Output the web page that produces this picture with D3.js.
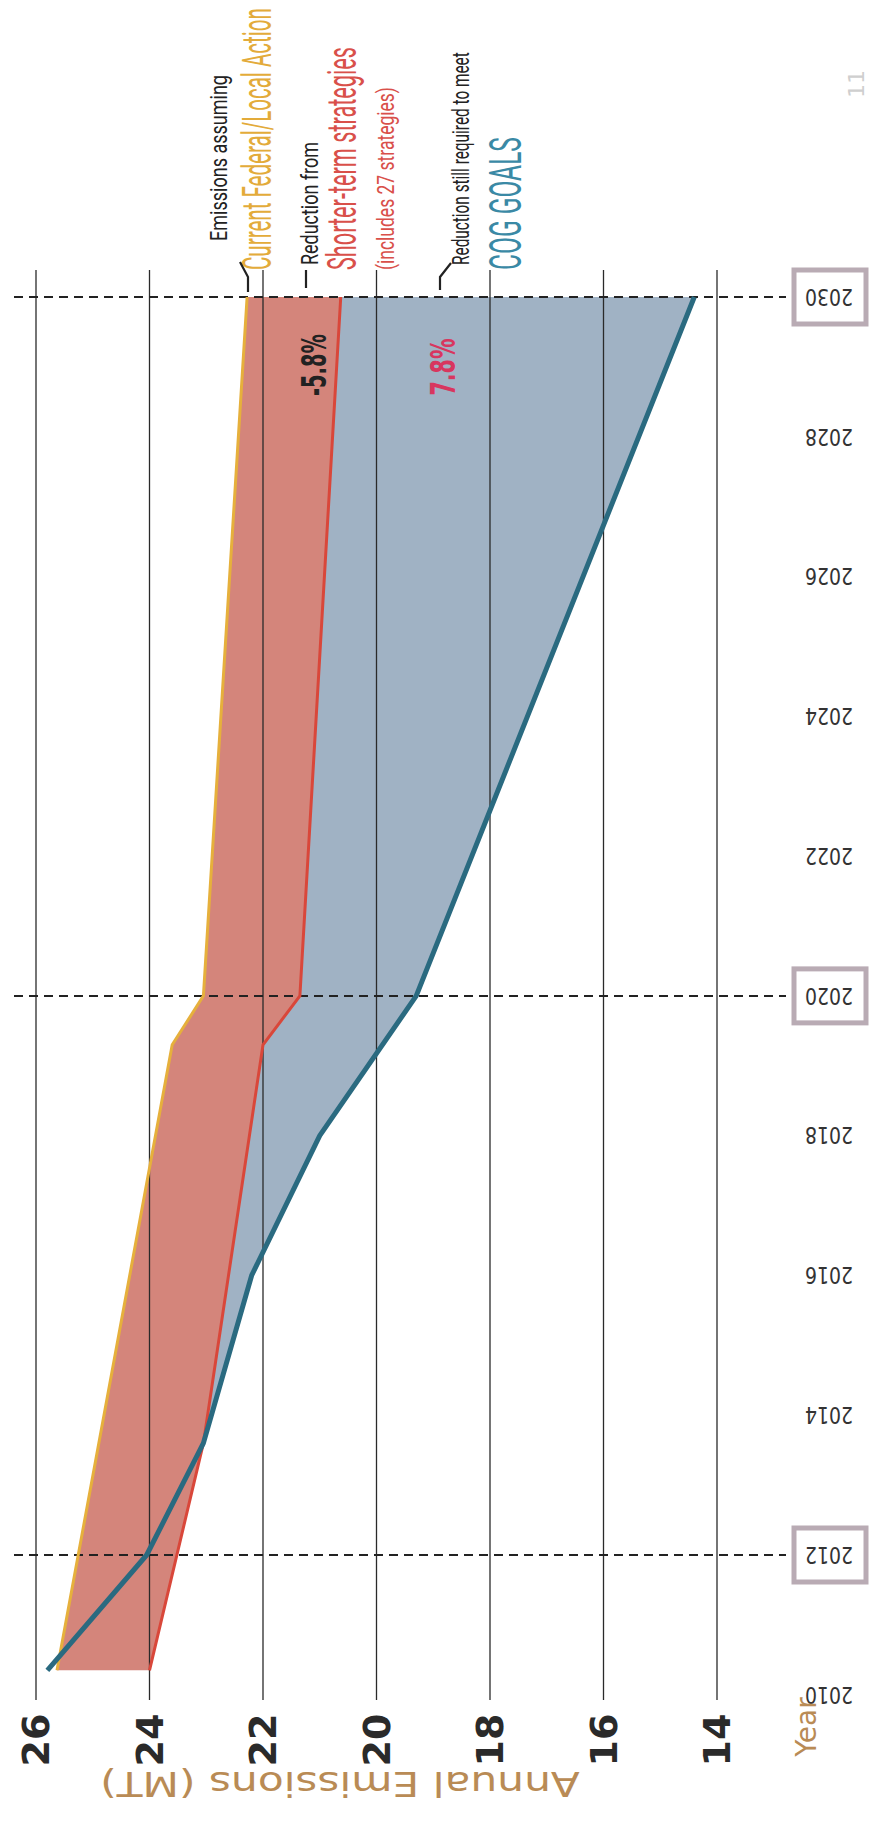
<!DOCTYPE html>
<html>
<head>
<meta charset="utf-8">
<script src="https://cdn.jsdelivr.net/npm/d3@7"></script>
<style>
  html, body { margin: 0; padding: 0; background: #ffffff; }
  svg { display: block; }
</style>
</head>
<body>
<svg id="chart" width="870" height="1824"></svg>
<script>
// ---------------- DATA ----------------
const valueTicks = [26, 24, 22, 20, 18, 16, 14];
const yearTicks = [2010, 2012, 2014, 2016, 2018, 2020, 2022, 2024, 2026, 2028, 2030];
const markedYears = [2012, 2020, 2030];

// Emissions assuming Current Federal/Local Action (MT)
const currentYears  = [2010.35, 2019.3, 2020, 2030];
const currentValues = [25.63, 23.6, 23.05, 22.28];

// After Shorter-term strategies
const shorterYears  = [2010.35, 2013.6, 2019.3, 2020, 2030];
const shorterValues = [24.0, 23.05, 22.0, 21.35, 20.63];

// COG goals path
const cogYears  = [2010.35, 2012, 2013.6, 2016, 2018, 2020, 2030];
const cogValues = [25.8, 24.05, 23.05, 22.2, 21.0, 19.3, 14.4];

const pctLabels = ["-5.8%", "7.8%"];

// ---------------- CHART ----------------
const svg = d3.select("#chart");
const FONT = "'DejaVu Sans', 'Liberation Sans', sans-serif";
const NARROW = "'Liberation Sans Narrow', 'Roboto', 'Liberation Sans', sans-serif";

const yS = d3.scaleLinear().domain([2012, 2030]).range([1555, 297]);
const xS = d3.scaleLinear().domain([26, 14]).range([36, 717]);

const zip = (ys, vs) => ys.map((y, i) => ({ yr: y, v: vs[i] }));
const current = zip(currentYears, currentValues);
const shorter = zip(shorterYears, shorterValues);
const cog = zip(cogYears, cogValues);

const line = d3.line().x(d => xS(d.v)).y(d => yS(d.yr));

// fit a text to a target length by horizontal scaling in its own frame
function fit(sel, x, y, rot, len) {
  sel.each(function (d) {
    const X = typeof x === "function" ? x(d) : x;
    const Y = typeof y === "function" ? y(d) : y;
    const L = typeof len === "function" ? len(d) : len;
    const w = this.getComputedTextLength();
    const k = w > 0 ? L / w : 1;
    d3.select(this).attr("transform", `translate(${X},${Y}) rotate(${rot}) scale(${k},1)`);
  });
}

// piecewise-linear value of a series at a year
function valueAt(series, yr) {
  for (let i = 0; i < series.length - 1; i++) {
    const a = series[i], b = series[i + 1];
    if (yr >= a.yr && yr <= b.yr) return a.v + (b.v - a.v) * (yr - a.yr) / (b.yr - a.yr);
  }
  return series[series.length - 1].v;
}
// crossing of shorter-term and COG lines
function crossing() {
  const ys = Array.from(new Set(shorter.map(d => d.yr).concat(cog.map(d => d.yr)))).sort((a, b) => a - b);
  for (let i = 0; i < ys.length - 1; i++) {
    const d0 = valueAt(shorter, ys[i]) - valueAt(cog, ys[i]);
    const d1 = valueAt(shorter, ys[i + 1]) - valueAt(cog, ys[i + 1]);
    if (d0 <= 0 && d1 > 0) {
      const t = ys[i] + (ys[i + 1] - ys[i]) * (-d0) / (d1 - d0);
      return { yr: t, v: valueAt(shorter, t) };
    }
  }
  return shorter[0];
}

// red band between current and shorter-term
const redPoly = current.concat(shorter.slice().reverse());
svg.append("path").attr("d", line(redPoly) + "Z")
  .attr("fill", "#d4857b").attr("stroke", "none");

// blue band between shorter-term and COG goals (after the crossing)
const cx = crossing();
const blueTop = [cx].concat(shorter.filter(d => d.yr > cx.yr));
const blueBot = cog.filter(d => d.yr > cx.yr).reverse();
svg.append("path").attr("d", line(blueTop.concat(blueBot)) + "Z")
  .attr("fill", "#a0b2c4").attr("stroke", "none");

// gridlines
svg.append("g").selectAll("line").data(valueTicks).join("line")
  .attr("x1", d => xS(d)).attr("x2", d => xS(d))
  .attr("y1", 270).attr("y2", 1700)
  .attr("stroke", "#2a2a2a").attr("stroke-width", 1.3);

// dashed year lines
svg.append("g").selectAll("line").data(markedYears).join("line")
  .attr("x1", 14).attr("x2", 786)
  .attr("y1", d => yS(d)).attr("y2", d => yS(d))
  .attr("stroke", "#222").attr("stroke-width", 2)
  .attr("stroke-dasharray", "9,6");

// series strokes
svg.append("path").attr("d", line(current)).attr("fill", "none")
  .attr("stroke", "#e6b03c").attr("stroke-width", 3);
svg.append("path").attr("d", line(shorter)).attr("fill", "none")
  .attr("stroke", "#d9473a").attr("stroke-width", 3);
svg.append("path").attr("d", line(cog)).attr("fill", "none")
  .attr("stroke", "#2a6a80").attr("stroke-width", 5).attr("stroke-linejoin", "round");

// value tick labels (rotated)
svg.append("g").selectAll("text").data(valueTicks).join("text")
  .attr("transform", d => `translate(${xS(d)},1740) rotate(-90)`)
  .attr("text-anchor", "middle").attr("dominant-baseline", "central")
  .attr("font-family", FONT).attr("font-weight", "bold").attr("font-size", 38)
  .attr("fill", "#2a2a2a").text(d => d);

// year boxes
svg.append("g").selectAll("rect").data(markedYears).join("rect")
  .attr("x", 794).attr("y", d => yS(d) - 27).attr("width", 72).attr("height", 54)
  .attr("fill", "#fff").attr("stroke", "#b9abb4").attr("stroke-width", 5);

// year labels (upside down)
svg.append("g").selectAll("text").data(yearTicks).join("text")
  .attr("text-anchor", "middle").attr("dominant-baseline", "central")
  .attr("font-family", FONT).attr("font-size", 23)
  .attr("fill", "#333").text(d => d)
  .call(fit, 829, d => yS(d), 180, 48);

// axis titles
svg.append("text")
  .attr("text-anchor", "middle").attr("dominant-baseline", "central")
  .attr("font-family", FONT).attr("font-size", 34).attr("fill", "#b98b55")
  .text("Annual Emissions (MT)")
  .call(fit, 340, 1784, 180, 480);
svg.append("text").attr("transform", "translate(806,1727) rotate(-90)")
  .attr("text-anchor", "middle").attr("dominant-baseline", "central")
  .attr("font-family", FONT).attr("font-size", 28).attr("fill", "#b98b55")
  .text("Year");

// percentage labels
svg.append("text")
  .attr("text-anchor", "middle").attr("dominant-baseline", "central")
  .attr("font-family", FONT).attr("font-weight", "bold").attr("font-size", 33)
  .attr("fill", "#222").text(pctLabels[0])
  .call(fit, 314, 365, -90, 62);
svg.append("text")
  .attr("text-anchor", "middle").attr("dominant-baseline", "central")
  .attr("font-family", FONT).attr("font-weight", "bold").attr("font-size", 33)
  .attr("fill", "#d8365f").text(pctLabels[1])
  .call(fit, 443, 367, -90, 57);

// annotations (rotated, reading bottom to top)
const notes = [
  { t: "Emissions assuming", x: 227, y: 241, s: 24, len: 166, c: "#222" },
  { t: "Current Federal/Local Action", x: 271, y: 270, s: 40, len: 262, c: "#e3ab3a" },
  { t: "Reduction from", x: 318, y: 265, s: 24, len: 123, c: "#222" },
  { t: "Shorter-term strategies", x: 356, y: 270, s: 40, len: 223, c: "#d9504a" },
  { t: "(includes 27 strategies)", x: 394, y: 270, s: 24, len: 183, c: "#d9504a" },
  { t: "Reduction still required to meet", x: 469, y: 265, s: 24, len: 213, c: "#222" },
  { t: "COG GOALS", x: 521, y: 270, s: 44, len: 133, c: "#3a89a5" }
];
svg.append("g").selectAll("text").data(notes).join("text")
  .attr("text-anchor", "start")
  .attr("font-family", NARROW).attr("font-size", d => d.s)
  .attr("fill", d => d.c).text(d => d.t)
  .call(fit, d => d.x, d => d.y, -90, d => d.len);

// leader marks
const leaders = [
  [[240, 262], [248, 277], [248, 292]],
  [[306, 270], [306, 288]],
  [[451, 263], [440, 277], [440, 290]]
];
svg.append("g").selectAll("path").data(leaders).join("path")
  .attr("d", d => d3.line()(d)).attr("fill", "none")
  .attr("stroke", "#222").attr("stroke-width", 2.2);

// faint page mark
svg.append("text").attr("transform", "translate(864,84) rotate(-90)")
  .attr("text-anchor", "middle").attr("font-family", FONT).attr("font-size", 22)
  .attr("fill", "#cfcfcf").text("11");
</script>
</body>
</html>
